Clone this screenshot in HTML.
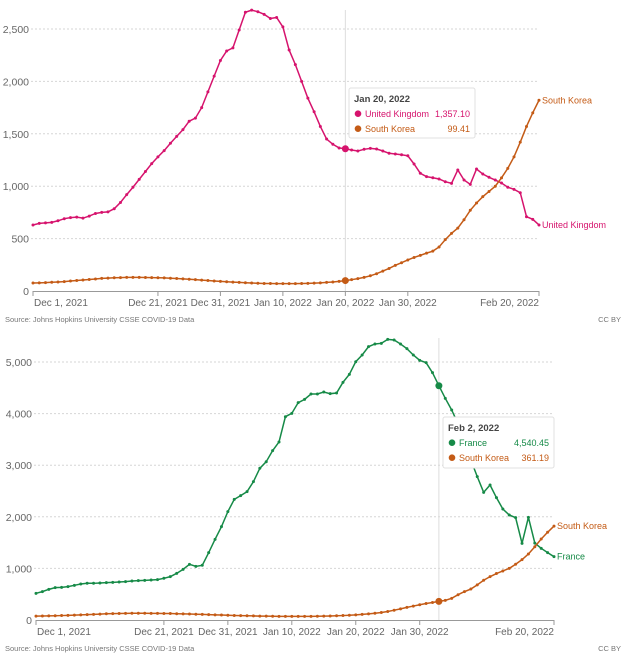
<!DOCTYPE html>
<html><head><meta charset="utf-8">
<style>
html,body{margin:0;padding:0;background:#fff;}
body{width:628px;height:658px;overflow:hidden;font-family:"Liberation Sans",sans-serif;}
svg text{font-family:"Liberation Sans",sans-serif;}
</style></head>
<body>
<svg id="chart" width="628" height="658" viewBox="0 0 628 658" xmlns="http://www.w3.org/2000/svg"></svg>
<script>
const dayCount = 82; // Dec 1, 2021 .. Feb 20, 2022
const xTickLabels = ["Dec 1, 2021","Dec 21, 2021","Dec 31, 2021","Jan 10, 2022","Jan 20, 2022","Jan 30, 2022","Feb 20, 2022"];
const xTickDays = [0,20,30,40,50,60,81];
const yTicks1 = [0,500,1000,1500,2000,2500];
const yTicks2 = [0,1000,2000,3000,4000,5000];
const ukValues = [630,645,650,655,670,690,700,705,695,715,740,750,755,785,845,920,990,1065,1140,1215,
1280,1340,1410,1475,1540,1620,1650,1750,1900,2050,2200,2290,2320,2490,2660,2680,2665,2640,2600,2610,
2520,2300,2160,2000,1840,1710,1570,1450,1400,1365,1357.10,1345,1336,1352,1361,1355,1336,1314,1307,1300,
1290,1212,1123,1091,1081,1069,1043,1027,1155,1059,1018,1164,1116,1085,1059,1030,990,970,938,709,684,630];
const skValues = [76,78,80,83,86,90,95,100,105,110,115,120,123,126,128,130,130,130,129,128,
127,125,122,119,116,112,108,104,100,96,92,88,85,82,79,76,74,72,71,70,
70,70,70,71,73,75,78,82,86,92,99.41,108,118,130,145,165,190,215,245,270,
296,320,340,361.19,380,420,490,550,600,680,770,840,900,950,1000,1080,1170,1280,1420,1570,1700,1820];
const frValues = [517,550,594,627,633,646,672,698,711,711,717,724,730,736,743,756,762,769,775,782,
808,840,904,982,1079,1040,1060,1305,1563,1809,2100,2338,2410,2487,2681,2940,3068,3282,3450,3940,
4005,4212,4276,4380,4380,4419,4386,4399,4606,4761,5006,5136,5297,5349,5362,5439,5426,5349,5258,5136,
5032,4987,4793,4540.45,4296,4070,3800,3450,3100,2778,2474,2616,2371,2151,2035,1983,1486,1990,1490,1389,
1305,1227];

const NS="http://www.w3.org/2000/svg";
const svg=document.getElementById('chart');
function mk(tag,attrs,parent){const e=document.createElementNS(NS,tag);for(const k in attrs)e.setAttribute(k,attrs[k]);(parent||svg).appendChild(e);return e;}

function drawChart(cfg){
  const g=mk('g',{});
  
  
  const xs=d=>cfg.x0+d*(cfg.x1-cfg.x0)/(dayCount-1);
  const ys=v=>cfg.y0-v*(cfg.y0-cfg.yTop)/cfg.yMax;
  cfg.yTicks.forEach(t=>{
    if(t>0){const l=mk('line',{x1:cfg.x0-2,x2:cfg.x1,y1:ys(t),y2:ys(t),stroke:'#d6d6d6','stroke-dasharray':'2,2'},g);
      }
    const tx=mk('text',{x:cfg.labelX,y:ys(t)+4,'text-anchor':'end','font-size':'10.5',fill:'#666'},g);
    tx.textContent=t.toLocaleString('en-US');
    
  });
  const ax=mk('line',{x1:cfg.x0,x2:cfg.x1,y1:cfg.y0+0.5,y2:cfg.y0+0.5,stroke:'#999'},g);
  
  xTickDays.forEach((d,i)=>{
    const t=mk('line',{x1:xs(d),x2:xs(d),y1:cfg.y0,y2:cfg.y0+5,stroke:'#999'},g);
    
    const anchor=i===0?'start':(i===xTickDays.length-1?'end':'middle');
    const tx=mk('text',{x:xs(d)+(i===0?1:0),y:cfg.y0+15,'text-anchor':anchor,'font-size':'10',fill:'#666'},g);
    tx.textContent=xTickLabels[i];
    
  });
  const ch=mk('line',{x1:xs(cfg.hover),x2:xs(cfg.hover),y1:cfg.crossTop,y2:cfg.y0,stroke:'#ddd'},g);
  
  cfg.series.forEach(s=>{
    const p=mk('polyline',{points:s.values.map((v,i)=>xs(i)+','+ys(v)).join(' '),fill:'none',stroke:s.color,'stroke-width':1.5},g);
    
    s.values.forEach((v,i)=>{const c=mk('circle',{cx:xs(i),cy:ys(v),r:1.5,fill:s.color},g);
      });
    const h=mk('circle',{cx:xs(cfg.hover),cy:ys(s.values[cfg.hover]),r:3.5,fill:s.color},g);
    
    const lb=mk('text',{x:xs(dayCount-1)+3,y:ys(s.values[dayCount-1])+s.dy,'font-size':'9',fill:s.color},g);
    lb.textContent=s.label;
    
  });
  const tt=mk('g',{},g);
  
  const b=cfg.tip;
  mk('rect',{x:b.x,y:b.y,width:b.w,height:b.h,fill:'#fff',stroke:'#e0e0e0',rx:2},tt);
  const tt1=mk('text',{x:b.x+5,y:b.y+14,'font-size':'9.5','font-weight':'bold',fill:'#444'},tt);
  tt1.textContent=b.date;
  
  cfg.series.forEach((s,i)=>{
    const yy=b.y+29+i*15;
    mk('circle',{cx:b.x+9,cy:yy-3.3,r:3.3,fill:s.color},tt);
    const n=mk('text',{x:b.x+16,y:yy,'font-size':'9',fill:s.color},tt);
    n.textContent=s.label;
    
    const v=mk('text',{x:b.x+b.w-5,y:yy,'font-size':'9',fill:s.color,'text-anchor':'end'},tt);
    v.textContent=s.values[cfg.hover].toLocaleString('en-US',{minimumFractionDigits:2,maximumFractionDigits:2});
    
  });
  const src=mk('text',{x:5,y:cfg.srcY,'font-size':'7.5',fill:'#777'},g);
  src.textContent='Source: Johns Hopkins University CSSE COVID-19 Data';
  
  const cc=mk('text',{x:621,y:cfg.srcY,'font-size':'7.5',fill:'#777','text-anchor':'end'},g);
  cc.textContent='CC BY';
  
}

drawChart({name:'uk-vs-south-korea-chart',x0:33,x1:539,y0:291,yTop:29,yMax:2500,yTicks:yTicks1,labelX:29,
  hover:50,crossTop:10,srcY:322,
  tip:{x:349,y:88,w:126,h:50,date:'Jan 20, 2022'},
  series:[{key:'united-kingdom',label:'United Kingdom',color:'#d6136d',values:ukValues,dy:3},
          {key:'south-korea',label:'South Korea',color:'#c45b16',values:skValues,dy:3}]});
drawChart({name:'france-vs-south-korea-chart',x0:36,x1:554,y0:620,yTop:362,yMax:5000,yTicks:yTicks2,labelX:32,
  hover:63,crossTop:338,srcY:651,
  tip:{x:443,y:417,w:111,h:51,date:'Feb 2, 2022'},
  series:[{key:'france',label:'France',color:'#168a47',values:frValues,dy:3},
          {key:'south-korea-2',label:'South Korea',color:'#c45b16',values:skValues,dy:3}]});
</script>
</body></html>
